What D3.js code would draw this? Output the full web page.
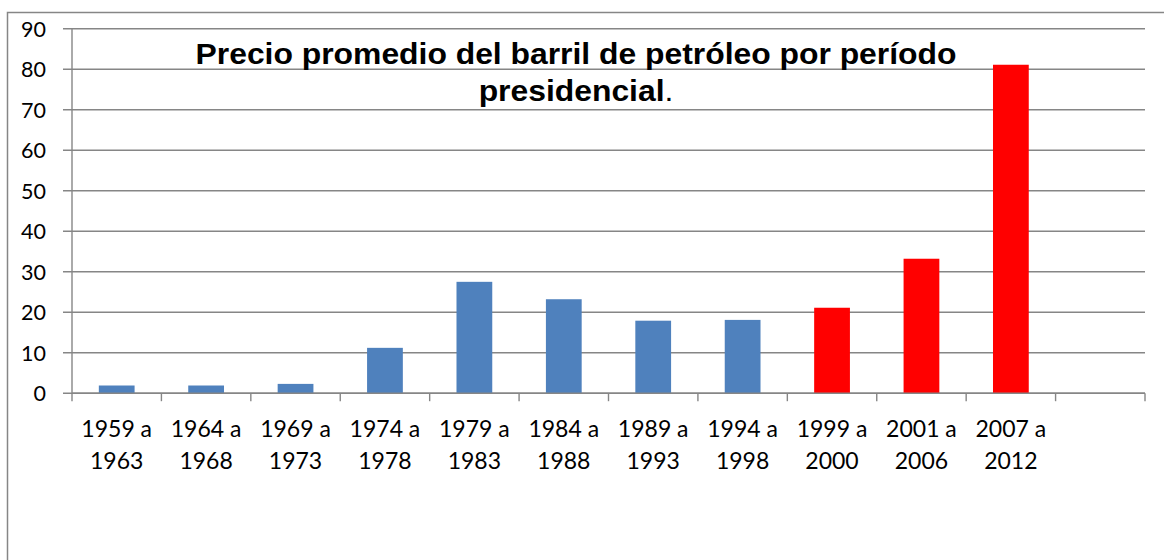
<!DOCTYPE html>
<html><head><meta charset="utf-8">
<script src="https://cdn.jsdelivr.net/npm/d3@7"></script>
<style>html,body{margin:0;padding:0;background:#fff;}svg{display:block;}</style>
</head><body>
<svg id="c" width="1164" height="560"></svg>
<script>
const categories = [["1959 a","1963"],["1964 a","1968"],["1969 a","1973"],["1974 a","1978"],["1979 a","1983"],["1984 a","1988"],["1989 a","1993"],["1994 a","1998"],["1999 a","2000"],["2001 a","2006"],["2007 a","2012"],["",""]];
const values = [1.9, 1.9, 2.3, 11.2, 27.5, 23.2, 17.9, 18.1, 21.1, 33.2, 81.1, null];
const highlight = [false,false,false,false,false,false,false,false,true,true,true,false];
const yTicks = [0,10,20,30,40,50,60,70,80,90];
const titleLine1 = "Precio promedio del barril de petróleo por período";
const titleLine2 = "presidencial";

const svg = d3.select("#c");
const L = 72, R = 1145, T = 28.7, B = 393.2;
const gray = "#868686";

svg.append("rect").attr("x",7.5).attr("y",12.5).attr("width",1200).attr("height",600)
  .attr("fill","#fff").attr("stroke",gray).attr("stroke-width",1.5);

const x = d3.scaleBand().domain(d3.range(categories.length)).range([L,R]).paddingInner(0).paddingOuter(0);
const y = d3.scaleLinear().domain([0,90]).range([B,T]);

// gridlines
svg.append("g").selectAll("line").data(yTicks).join("line")
  .attr("x1",L-9).attr("x2",R).attr("y1",d=>y(d)).attr("y2",d=>y(d))
  .attr("stroke",gray).attr("stroke-width",1.4);

// y axis line
svg.append("line").attr("x1",L).attr("x2",L).attr("y1",T).attr("y2",B)
  .attr("stroke",gray).attr("stroke-width",1.4);

// y labels
svg.append("g").selectAll("text").data(yTicks).join("text")
  .attr("x",46).attr("y",d=>y(d)+7.8).attr("text-anchor","end")
  .attr("font-family","Lato, 'Open Sans', sans-serif").attr("font-size",21.5).attr("fill","#000")
  .text(d=>d);

// bars
const bw = x.bandwidth()*0.4;
svg.append("g").selectAll("rect").data(values.map((v,i)=>({v,i})).filter(d=>d.v!=null)).join("rect")
  .attr("x",d=>x(d.i)+(x.bandwidth()-bw)/2).attr("width",bw)
  .attr("y",d=>y(d.v)).attr("height",d=>B-y(d.v))
  .attr("fill",d=>highlight[d.i]?"#FF0000":"#4F81BD");

// x axis line & ticks
svg.append("line").attr("x1",L).attr("x2",R).attr("y1",B).attr("y2",B)
  .attr("stroke",gray).attr("stroke-width",1.4);
const tickPos = d3.range(categories.length+1).map(i=>L+i*x.bandwidth());
svg.append("g").selectAll("line").data(tickPos).join("line")
  .attr("x1",d=>d).attr("x2",d=>d).attr("y1",B).attr("y2",B+8)
  .attr("stroke",gray).attr("stroke-width",1.4);

// x labels
const xl = svg.append("g").selectAll("text").data(categories.map((c,i)=>({c,i}))).join("text")
  .attr("text-anchor","middle")
  .attr("font-family","Lato, 'Open Sans', sans-serif").attr("font-size",23).attr("fill","#000");
xl.append("tspan").attr("x",d=>x(d.i)+x.bandwidth()/2).attr("y",436.5).text(d=>d.c[0]);
xl.append("tspan").attr("x",d=>x(d.i)+x.bandwidth()/2).attr("y",468.5).text(d=>d.c[1]);

// title
const tg = svg.append("g").attr("transform","translate(576,0) scale(1.08,1)");
const t = tg.append("text").attr("text-anchor","middle")
  .attr("font-family","'Liberation Sans', Arial, sans-serif").attr("font-size",29.5).attr("fill","#000");
t.append("tspan").attr("x",0).attr("y",64).attr("font-weight","bold").text(titleLine1);
const t2 = tg.append("text").attr("text-anchor","middle").attr("x",0).attr("y",101.5)
  .attr("font-family","'Liberation Sans', Arial, sans-serif").attr("font-size",29.5).attr("fill","#000");
t2.append("tspan").attr("font-weight","bold").text(titleLine2);
t2.append("tspan").attr("font-weight","normal").text(".");
</script>
</body></html>
